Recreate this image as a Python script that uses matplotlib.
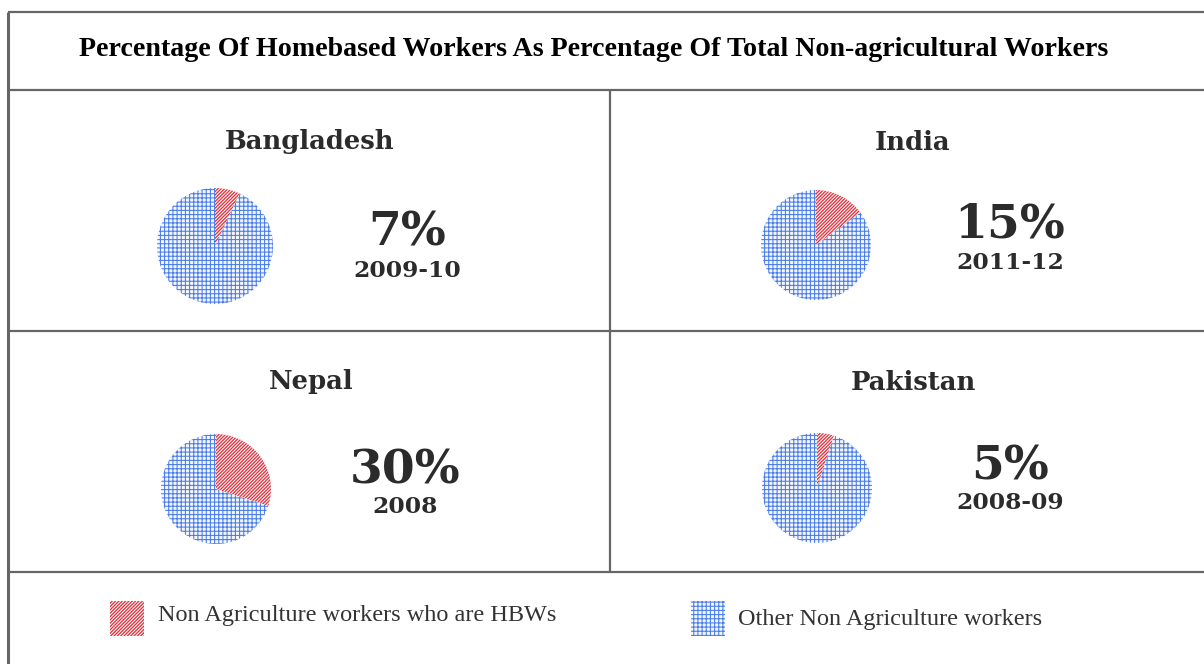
import matplotlib.pyplot as plt
from matplotlib.patches import Rectangle

# data
countries = ['Bangladesh', 'India', 'Nepal', 'Pakistan']
hbw_share = [7, 15, 30, 5]
years = ['2009-10', '2011-12', '2008', '2008-09']
legend_labels = ['Non Agriculture workers who are HBWs',
                 'Other Non Agriculture workers']
title = 'Percentage Of Homebased Workers As Percentage Of Total Non-agricultural Workers'

W, H = 1204, 664
red = '#e6323e'
blue = '#4a7ce8'
blue_fill = '#f2f6fe'
line_col = '#666666'
text_col = '#2b2b2b'
red_hatch, blue_hatch = '/' * 10, '++++'


def style_patch(p, kind):
    # hatch colour comes from the edge colour, edge itself not drawn
    if kind == 'hbw':
        p.set_facecolor('white')
        p.set_edgecolor(red)
        p.set_hatch(red_hatch)
        hlw = 0.95
    else:
        p.set_facecolor(blue_fill)
        p.set_edgecolor(blue)
        p.set_hatch(blue_hatch)
        hlw = 0.75
    p.set_linewidth(0)
    if hasattr(p, 'set_hatch_linewidth'):
        p.set_hatch_linewidth(hlw)


fig = plt.figure(figsize=(W / 100, H / 100), dpi=100, facecolor='white')
bg = fig.add_axes([0, 0, 1, 1])
bg.set_xlim(0, W)
bg.set_ylim(H, 0)
bg.axis('off')

# frame / grid lines
lw = 1.6
bg.plot([8, 8], [12, H], color=line_col, lw=2.2, solid_capstyle='butt')
for y in [12, 90, 331, 572]:
    bg.plot([8, W], [y, y], color=line_col, lw=lw, solid_capstyle='butt')
bg.plot([610, 610], [90, 572], color=line_col, lw=lw, solid_capstyle='butt')

bg.text(594, 49, title, ha='center', va='center', fontsize=20.2,
        fontweight='bold', family='Liberation Serif', color='black')

# panel layout: (pie centre x, pie centre y, radius, name x, name y, pct x, pct y, year y)
panels = [
    (215, 246, 58, 310, 142, 407, 233, 271),
    (816, 245, 55, 913, 142, 1010, 224, 263),
    (216, 489, 55, 311, 382, 405, 470, 507),
    (817, 488, 55, 913, 382, 1010, 467, 503),
]

for (cx, cy, r, nx, ny, px, py, yy), name, share, year in zip(
        panels, countries, hbw_share, years):
    bg.text(nx, ny, name, ha='center', va='center', fontsize=18.6,
            fontweight='bold', family='DejaVu Serif', color=text_col)
    bg.text(px, py, f'{share}%', ha='center', va='center', fontsize=34,
            fontweight='bold', family='DejaVu Serif', color=text_col)
    bg.text(px, yy, year, ha='center', va='center', fontsize=16.8,
            fontweight='bold', family='DejaVu Serif', color=text_col)

    ax = fig.add_axes([(cx - r) / W, 1 - (cy + r) / H, 2 * r / W, 2 * r / H])
    wedges, _ = ax.pie([share, 100 - share], startangle=90, counterclock=False,
                       radius=1)
    style_patch(wedges[0], 'hbw')
    style_patch(wedges[1], 'other')
    ax.set_xlim(-1, 1)
    ax.set_ylim(-1, 1)
    ax.set_aspect('equal')
    ax.axis('off')

# legend
leg_items = [(110, 158, 615, 'hbw'), (691, 738, 619, 'other')]
for (bx, tx, ty, kind), label in zip(leg_items, legend_labels):
    rect = Rectangle((bx, 601), 34, 35)
    style_patch(rect, kind)
    bg.add_patch(rect)
    bg.text(tx, ty, label, ha='left', va='center', fontsize=17.5,
            family='Liberation Serif', color='#333333')

fig.savefig('out.png', dpi=100, facecolor='white')
